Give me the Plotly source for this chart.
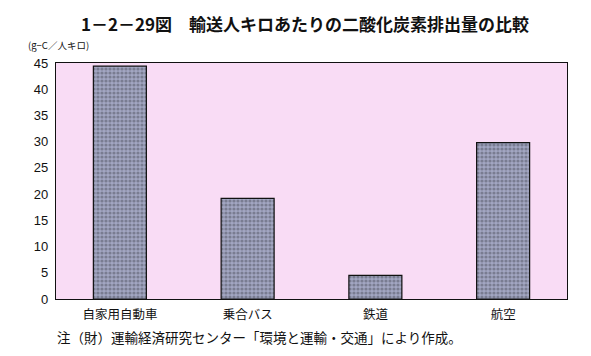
import plotly.graph_objects as go

categories = ["自家用自動車", "乗合バス", "鉄道", "航空"]
values = [44.4, 19.2, 4.5, 29.8]
tick_vals = [0, 5, 10, 15, 20, 25, 30, 35, 40, 45]

title_text = "1－2－29図　輸送人キロあたりの二酸化炭素排出量の比較"
unit_text = "(g−C／人キロ)"
note_text = "注（財）運輸経済研究センター「環境と運輸・交通」により作成。"

FONT = "Noto Sans CJK JP"

# page body has an 8px margin; figure sized so whole page is 591x356
W, H = 575, 340
OFF = 8
l, r, t, b = 48, 16, 55, 49
pw, ph = W - l - r, H - t - b


def px(x):
    return (x - OFF - l) / pw


def py(y):
    return (H - b - (y - OFF)) / ph


fig = go.Figure(go.Bar(
    x=categories, y=values,
    marker=dict(color="#868aa2", line=dict(color="#111111", width=1.2),
                pattern=dict(shape=".", fgcolor="#50525f", bgcolor="#a2a6c2", size=4, solidity=0.5)),
    width=0.415,
))

fig.update_layout(
    width=W, height=H,
    margin=dict(l=l, r=r, t=t, b=b),
    paper_bgcolor="white",
    plot_bgcolor="#f9dcf5",
    showlegend=False,
    font=dict(family=FONT, color="#111111"),
    annotations=[
        dict(text="<b>" + title_text + "</b>", x=px(305), y=py(23), xref="paper", yref="paper",
             showarrow=False, xanchor="center", yanchor="middle", font=dict(size=17, family=FONT)),
        dict(text=unit_text, x=px(26), y=py(45), xref="paper", yref="paper",
             showarrow=False, xanchor="left", yanchor="middle", font=dict(size=9.5, family=FONT)),
        dict(text=note_text, x=px(55), y=py(337), xref="paper", yref="paper",
             showarrow=False, xanchor="left", yanchor="middle", font=dict(size=13.5, family=FONT)),
    ],
)

fig.update_xaxes(showline=True, linecolor="#111111", linewidth=1.2, mirror=True,
                 ticks="", tickfont=dict(size=12.5, family=FONT), showgrid=False,
                 ticklabelstandoff=4)
fig.update_yaxes(range=[0, 45], tickvals=tick_vals, showline=True, linecolor="#111111",
                 linewidth=1.2, mirror=True, ticks="", showgrid=False, zeroline=False,
                 tickfont=dict(size=13, family="Liberation Sans"), ticklabelstandoff=4)

fig.write_html("out.html")
